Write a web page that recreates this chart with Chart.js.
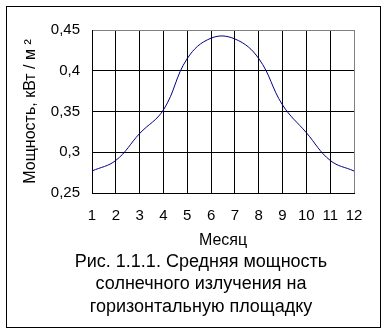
<!DOCTYPE html>
<html>
<head>
<meta charset="utf-8">
<script src="https://cdn.jsdelivr.net/npm/chart.js@4/dist/chart.umd.min.js"></script>
<style>
  html, body { margin: 0; padding: 0; background: #fff; }
  #wrap { position: relative; width: 386px; height: 334px; }
  #frame { position: absolute; left: 6px; top: 6px; width: 375px; height: 322px; box-sizing: border-box; border: 1px solid #000; pointer-events: none; }
  canvas { position: absolute; left: 0; top: 0; }
</style>
</head>
<body>
<div id="wrap">
  <canvas id="c" width="386" height="334"></canvas>
  <div id="frame"></div>
</div>
<script>
const months = [1, 2, 3, 4, 5, 6, 7, 8, 9, 10, 11, 12];
const power = [0.277, 0.290, 0.323, 0.352, 0.415, 0.440, 0.439, 0.415, 0.358, 0.324, 0.290, 0.277];
const yTickValues = [0.25, 0.30, 0.35, 0.40, 0.45];
const yTickLabels = ['0,25', '0,3', '0,35', '0,4', '0,45'];
const xTitle = 'Месяц';
const yTitle = 'Мощность, кВт / м ²';
const caption = ['Рис. 1.1.1. Средняя мощность', 'солнечного излучения на', 'горизонтальную площадку'];

const FONT = '"Liberation Sans", Arial, sans-serif';

const captionPlugin = {
  id: 'caption',
  afterDraw(chart) {
    const ctx = chart.ctx;
    ctx.save();
    ctx.fillStyle = '#000';
    ctx.font = '18px ' + FONT;
    ctx.textAlign = 'center';
    ctx.textBaseline = 'middle';
    caption.forEach((line, i) => {
      ctx.fillText(line, 201, 262 + i * 22.3);
    });
    ctx.restore();
  }
};

new Chart(document.getElementById('c'), {
  type: 'line',
  data: {
    datasets: [{
      data: months.map((m, i) => ({ x: m, y: power[i] })),
      borderColor: '#000080',
      borderWidth: 1,
      pointRadius: 0,
      tension: 0.4,
      fill: false
    }]
  },
  options: {
    responsive: false,
    animation: false,
    devicePixelRatio: 1,
    layout: { padding: { left: 0, top: 30, right: 32, bottom: 83 } },
    plugins: {
      legend: { display: false },
      tooltip: { enabled: false },
      title: { display: false }
    },
    scales: {
      x: {
        type: 'linear',
        min: 1,
        max: 12,
        afterFit: (s) => { s.height = 58; },
        ticks: {
          stepSize: 1,
          color: '#000',
          padding: 14,
          font: { family: FONT, size: 15 },
          maxRotation: 0
        },
        grid: {
          drawTicks: false,
          lineWidth: 1,
          color: (ctx) => (ctx.tick && ctx.tick.value === 12) ? '#808080' : '#000'
        },
        border: { display: true, color: '#000', width: 1 },
        title: {
          display: true,
          text: xTitle,
          color: '#000',
          font: { family: FONT, size: 16, lineHeight: '18px' },
          padding: { top: 0, bottom: 1 }
        }
      },
      y: {
        type: 'linear',
        min: 0.25,
        max: 0.45,
        afterFit: (s) => { s.width = 92; },
        afterBuildTicks: (s) => { s.ticks = yTickValues.map(v => ({ value: v })); },
        ticks: {
          color: '#000',
          padding: 12,
          font: { family: FONT, size: 15 },
          callback: (v) => {
            const i = yTickValues.findIndex(t => Math.abs(t - v) < 1e-9);
            return i >= 0 ? yTickLabels[i] : '';
          }
        },
        grid: {
          drawTicks: false,
          lineWidth: 1,
          color: (ctx) => (ctx.tick && Math.abs(ctx.tick.value - 0.45) < 1e-9) ? '#808080' : '#000'
        },
        border: { display: true, color: '#000', width: 1 },
        title: {
          display: true,
          text: yTitle,
          color: '#000',
          font: { family: FONT, size: 16, lineHeight: '18px' },
          padding: { top: 22, bottom: 0 }
        }
      }
    }
  },
  plugins: [captionPlugin]
});
</script>
</body>
</html>
